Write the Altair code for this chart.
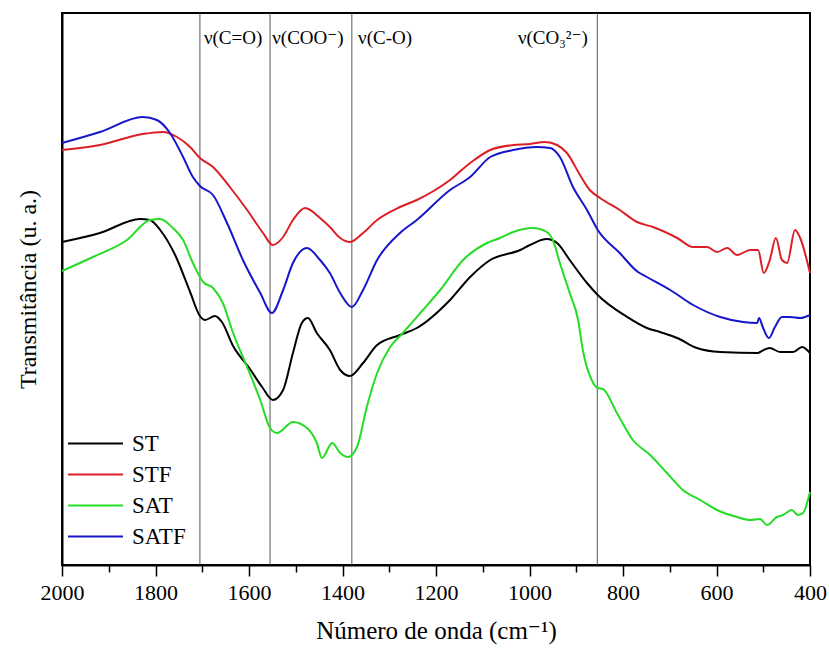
import altair as alt
import pandas as pd

# ---- data (wavenumber cm-1, transmittance in arbitrary units) ----
ST_WN = [2000, 1919, 1833, 1812, 1790, 1758, 1726, 1705, 1694, 1673, 1658, 1634, 1598, 1572,
         1549, 1527, 1506, 1487, 1474, 1455, 1427, 1405, 1384, 1356, 1326, 1277, 1241, 1170,
         1127, 1084, 1020, 999, 963, 941, 914, 877, 854, 791, 749, 721, 684, 642, 592, 511,
         507, 486, 464, 436, 417, 400]
ST_T = [323, 332, 346, 345, 335, 310, 273, 249, 245, 249, 243, 219, 196, 178,
        165, 175, 212, 242, 247, 232, 215, 195, 189, 202, 220, 230, 237, 265,
        288, 305, 315, 320, 326, 322, 305, 282, 270, 248, 237, 233, 227, 217, 213, 212,
        213, 217, 213, 213, 218, 212]

STF_WN = [2000, 1919, 1827, 1784, 1754, 1726, 1705, 1677, 1641, 1604, 1570, 1549, 1527, 1506,
          1480, 1448, 1427, 1405, 1384, 1356, 1326, 1277, 1241, 1170, 1127, 1084, 1035, 999,
          967, 941, 920, 892, 871, 849, 807, 770, 736, 684, 650, 620, 599, 577, 556, 528,
          511, 499, 486, 473, 460, 449, 432, 421, 400]
STF_T = [415, 420, 431, 433, 428, 418, 407, 398, 378, 355, 332, 320, 328, 345,
         357, 347, 338, 327, 323, 332, 345, 358, 365, 385, 402, 415, 420, 421,
         423, 420, 412, 390, 375, 367, 355, 343, 338, 327, 318, 318, 313, 317, 310, 315,
         315, 292, 305, 327, 305, 302, 335, 327, 292]

SAT_WN = [2000, 1934, 1861, 1812, 1790, 1763, 1741, 1720, 1698, 1677, 1656, 1634, 1604, 1576,
          1555, 1540, 1506, 1476, 1455, 1444, 1422, 1405, 1388, 1369, 1348, 1326, 1298, 1271,
          1228, 1191, 1142, 1091, 1063, 1035, 993, 963, 950, 935, 914, 896, 886, 867, 854,
          843, 813, 779, 742, 706, 672, 635, 599, 556, 528, 507, 492, 471, 458, 439, 426,
          415, 400]
SAT_T = [294, 308, 325, 345, 346, 337, 325, 302, 283, 277, 262, 232, 198, 165,
         137, 132, 143, 137, 122, 107, 122, 112, 108, 118, 158, 192, 218, 232,
         255, 275, 305, 322, 327, 333, 337, 333, 325, 302, 272, 245, 215, 185, 177,
         176, 152, 125, 110, 92, 75, 65, 55, 48, 45, 46, 40, 48, 50, 55, 50,
         52, 73]

SATF_WN = [2000, 1919, 1827, 1797, 1769, 1741, 1720, 1705, 1677, 1647, 1613, 1576, 1551, 1527,
           1506, 1476, 1448, 1427, 1405, 1380, 1356, 1326, 1277, 1241, 1170, 1127, 1084, 1035,
           984, 956, 935, 907, 877, 854, 807, 768, 749, 699, 650, 592, 543, 513, 509, 501,
           488, 475, 460, 443, 421, 400]
SATF_T = [422, 433, 448, 445, 432, 408, 388, 379, 370, 342, 305, 272, 252, 275,
          302, 317, 305, 292, 272, 258, 275, 305, 332, 345, 375, 388, 408, 415,
          418, 417, 408, 378, 355, 335, 312, 293, 288, 275, 260, 248, 243, 242, 247, 238,
          227, 238, 248, 248, 247, 250]

SERIES = ["ST", "STF", "SAT", "SATF"]
COLORS = ["#000000", "#dc1f26", "#26dc26", "#1616cc"]

BANDS_WN = [1705, 1555, 1380, 855]
LABEL_WN = [1634, 1474, 1309, 950]
LABEL_T = [527, 527, 527, 527]
LABEL_TXT = ["ν(C=O)", "ν(COO⁻)", "ν(C-O)", "ν(CO₃²⁻)"]

# ---- tables ----
rows = []
for name, wn, tv in [("ST", ST_WN, ST_T), ("STF", STF_WN, STF_T),
                     ("SAT", SAT_WN, SAT_T), ("SATF", SATF_WN, SATF_T)]:
    for w, v in zip(wn, tv):
        rows.append({"serie": name, "wn": w, "t": v})
df = pd.DataFrame(rows)
bands = pd.DataFrame({"wn": BANDS_WN})
labels = pd.DataFrame({"wn": LABEL_WN, "t": LABEL_T, "txt": LABEL_TXT})

FONT = "'Liberation Serif', 'Times New Roman', 'DejaVu Serif', serif"
x_scale = alt.Scale(domain=[400, 2000], reverse=True, nice=False, zero=False)
y_scale = alt.Scale(domain=[0, 552], nice=False, zero=False)

x_axis = alt.Axis(
    values=list(range(400, 2001, 100)),
    format="d",
    labelExpr="datum.value % 200 == 0 ? datum.label : ''",
    tickSize={"condition": {"test": "datum.value % 200 == 0", "value": 11}, "value": 7},
    labelPadding=6,
    labelFlush=False,
    labelOverlap=False,
    labelFontSize=22,
    grid=False,
    title="Número de onda (cm⁻¹)",
    titleFontSize=25,
    titlePadding=15,
)
y_axis = alt.Axis(labels=False, ticks=False, grid=False,
                  title="Transmitância (u. a.)", titleFontSize=24, titlePadding=22)

rules = alt.Chart(bands).mark_rule(color="#555555", strokeWidth=1).encode(
    x=alt.X("wn:Q", scale=x_scale, axis=x_axis),
)

lines = alt.Chart(df).mark_line(strokeWidth=2, interpolate="monotone").encode(
    x=alt.X("wn:Q", scale=x_scale, axis=x_axis),
    y=alt.Y("t:Q", scale=y_scale, axis=y_axis),
    color=alt.Color(
        "serie:N",
        scale=alt.Scale(domain=SERIES, range=COLORS),
        legend=alt.Legend(
            orient="none", legendX=21.5, legendY=418.5, title=None,
            symbolType="M-2.5,0L2.5,0", symbolSize=484, symbolStrokeWidth=2,
            labelOffset=24.5, labelFont=FONT, labelFontSize=23, labelColor="black",
            rowPadding=7, padding=0,
        ),
    ),
)

texts = alt.Chart(labels).mark_text(
    font=FONT, fontSize=19, align="center", baseline="middle", color="black"
).encode(
    x=alt.X("wn:Q", scale=x_scale),
    y=alt.Y("t:Q", scale=y_scale),
    text="txt:N",
)

chart = alt.layer(rules, lines, texts).properties(
    width=748, height=552,
    autosize=alt.AutoSizeParams(type="none"),
    padding={"left": 62, "top": 13, "right": 19, "bottom": 92},
    background="white",
).configure_view(
    stroke="black", strokeWidth=2
).configure_axis(
    domainColor="black", domainWidth=2, tickColor="black", tickWidth=1.5,
    labelFont=FONT, labelColor="black",
    titleFont=FONT, titleFontWeight="normal", titleColor="black",
)

chart.save("out.html", embed_options={"renderer": "svg", "actions": False})
